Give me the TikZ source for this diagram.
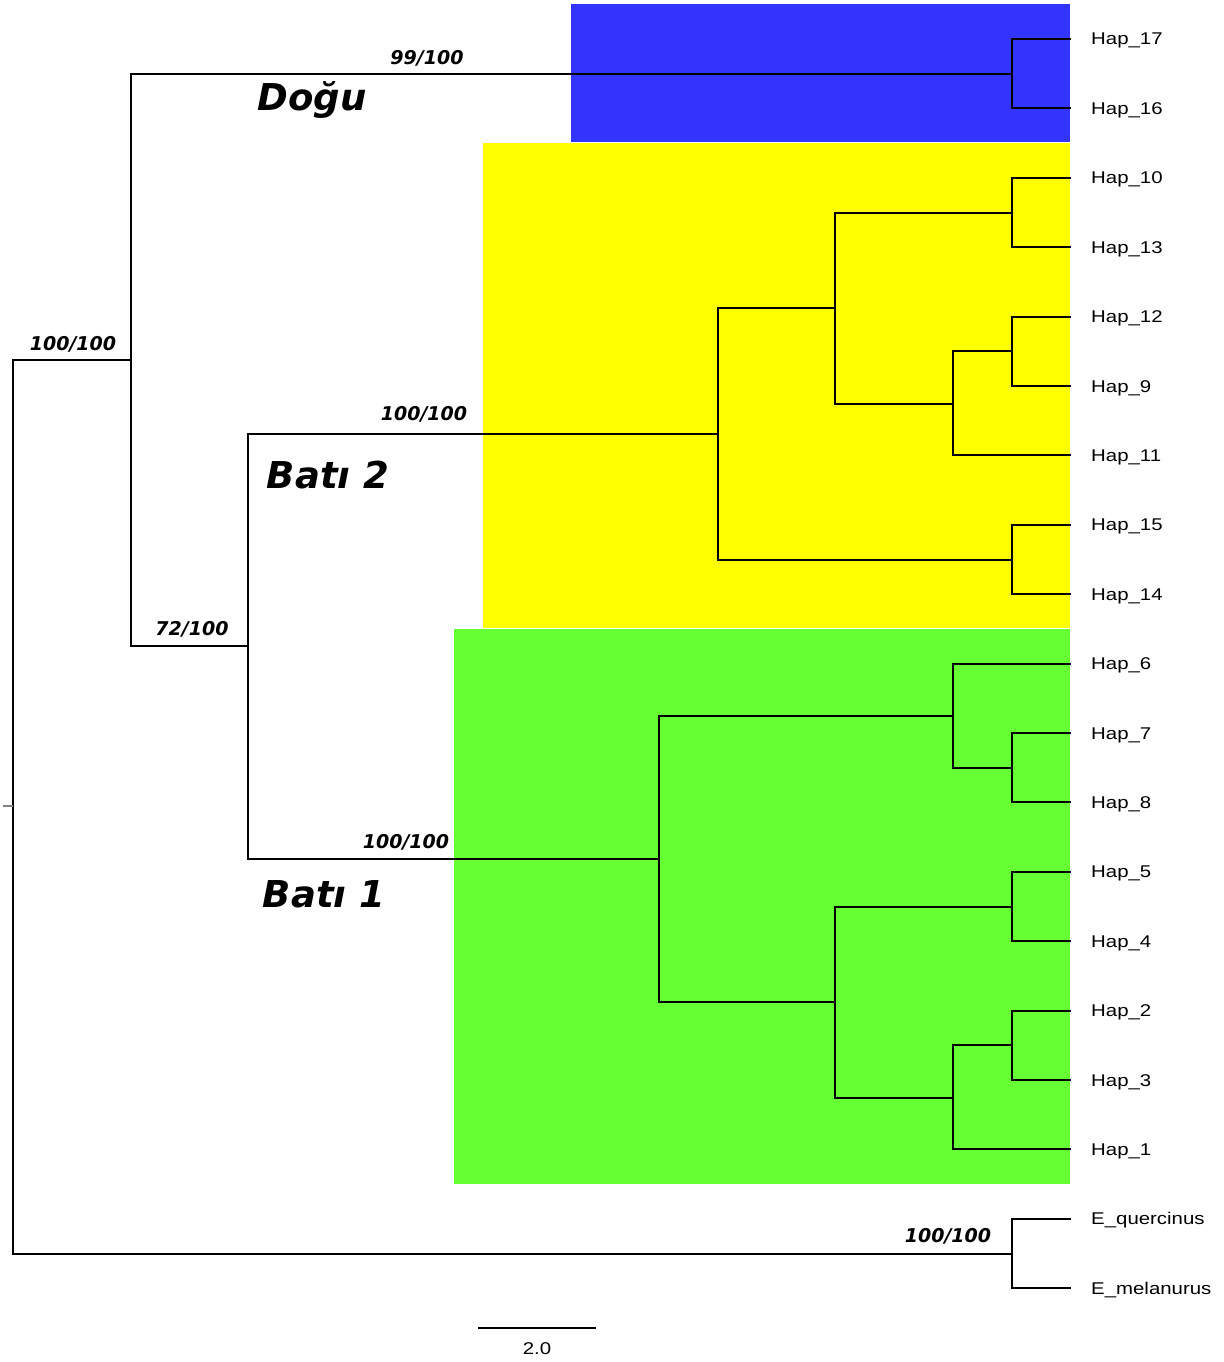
\documentclass[tikz,border=0pt]{standalone}
\usepackage{fontspec}
\usepackage{graphicx}
\setmainfont{Liberation Sans}
\newfontfamily\supfont{DejaVu Sans}
\usetikzlibrary{positioning,calc}

\definecolor{dogublue}{HTML}{3434FF}
\definecolor{batiyellow}{HTML}{FFFF00}
\definecolor{batigreen}{HTML}{66FF33}

\begin{document}
\begin{tikzpicture}[
    x=1pt, y=-1pt,
    branch/.style={line width=2pt, line cap=rect},
    tiplabel/.style={anchor=base west, inner sep=0pt, font=\fontsize{17}{20}\selectfont},
    support/.style={inner sep=0pt, font=\supfont\fontsize{19}{21}\selectfont\bfseries\itshape},
    clade/.style={inner sep=0pt, font=\supfont\fontsize{37}{40}\selectfont\bfseries\itshape}
  ]
    \useasboundingbox (0,0) rectangle (1223,1362);

    % Clade boxes
    \fill[dogublue] (571,4) rectangle (1070,142);
    \fill[batiyellow] (483,143) rectangle (1070,628);
    \fill[batigreen] (454,629) rectangle (1070,1184);

    % Tips
    \foreach \name/\i/\lab in {h17/1/Hap\_17, h16/2/Hap\_16, h10/3/Hap\_10, h13/4/Hap\_13,
        h12/5/Hap\_12, h9/6/Hap\_9, h11/7/Hap\_11, h15/8/Hap\_15, h14/9/Hap\_14,
        h6/10/Hap\_6, h7/11/Hap\_7, h8/12/Hap\_8, h5/13/Hap\_5, h4/14/Hap\_4,
        h2/15/Hap\_2, h3/16/Hap\_3, h1/17/Hap\_1, eq/18/E\_quercinus, em/19/E\_melanurus}{
      \coordinate (\name) at (1070, {39+69.4*(\i-1)});
      \node[tiplabel] (\name-lab) at ([shift={(21,6)}]\name) {\scalebox{1.2}[1]{\lab}};
    }

    % Internal nodes
    \coordinate (root) at (13,806);
    \coordinate (ing) at (131,359.5);
    \coordinate (out) at (1012,1253.5);
    \coordinate (dogu) at (1012,73.7);
    \coordinate (n72) at (248,646);
    \coordinate (bati2) at (718,433.5);
    \coordinate (b2a) at (835,307.5);
    \coordinate (n1013) at (1012,212.5);
    \coordinate (b2b) at (953,403.5);
    \coordinate (n129) at (1012,351.3);
    \coordinate (n1514) at (1012,559.5);
    \coordinate (bati1) at (659,858.5);
    \coordinate (b1a) at (953,715.5);
    \coordinate (n78) at (1012,767.7);
    \coordinate (b1b) at (835,1001.5);
    \coordinate (n54) at (1012,906.5);
    \coordinate (b1c) at (953,1097.5);
    \coordinate (n23) at (1012,1045.3);

    % Branches
    \draw[branch] (root) |- (ing);
    \draw[branch] (root) |- (out);
    \draw[gray, line width=1.5pt] (root) -- ++(-10,0);
    \draw[branch] (out) |- (eq);
    \draw[branch] (out) |- (em);
    \draw[branch] (ing) |- (dogu);
    \draw[branch] (ing) |- (n72);
    \draw[branch] (dogu) |- (h17);
    \draw[branch] (dogu) |- (h16);
    \draw[branch] (n72) |- (bati2);
    \draw[branch] (n72) |- (bati1);
    \draw[branch] (bati2) |- (b2a);
    \draw[branch] (bati2) |- (n1514);
    \draw[branch] (b2a) |- (n1013);
    \draw[branch] (b2a) |- (b2b);
    \draw[branch] (n1013) |- (h10);
    \draw[branch] (n1013) |- (h13);
    \draw[branch] (b2b) |- (n129);
    \draw[branch] (b2b) |- (h11);
    \draw[branch] (n129) |- (h12);
    \draw[branch] (n129) |- (h9);
    \draw[branch] (n1514) |- (h15);
    \draw[branch] (n1514) |- (h14);
    \draw[branch] (bati1) |- (b1a);
    \draw[branch] (bati1) |- (b1b);
    \draw[branch] (b1a) |- (h6);
    \draw[branch] (b1a) |- (n78);
    \draw[branch] (n78) |- (h7);
    \draw[branch] (n78) |- (h8);
    \draw[branch] (b1b) |- (n54);
    \draw[branch] (b1b) |- (b1c);
    \draw[branch] (n54) |- (h5);
    \draw[branch] (n54) |- (h4);
    \draw[branch] (b1c) |- (n23);
    \draw[branch] (b1c) |- (h1);
    \draw[branch] (n23) |- (h2);
    \draw[branch] (n23) |- (h3);

    % Support values
    \node[support] (s-dogu) at (427,58) {99/100};
    \node[support] (s-ing) at (73,344) {100/100};
    \node[support] (s-bati2) at (424,414) {100/100};
    \node[support] (s-n72) at (192,629) {72/100};
    \node[support] (s-bati1) at (406,842) {100/100};
    \node[support] (s-out) at (948,1236) {100/100};

    % Clade names
    \node[clade] (l-dogu) at (312,100) {Doğu};
    \node[clade] (l-bati2) at (328,475) {Batı 2};
    \node[clade] (l-bati1) at (324,894) {Batı 1};

    % Scale bar
    \coordinate (sbl) at (478,1328);
    \coordinate (sbr) at (596,1328);
    \draw[line width=2pt] (sbl) -- (sbr);
    \node[tiplabel, anchor=base] (sb-lab) at ($(sbl)!0.5!(sbr)+(0,26)$) {\scalebox{1.2}[1]{2.0}};
\end{tikzpicture}
\end{document}
